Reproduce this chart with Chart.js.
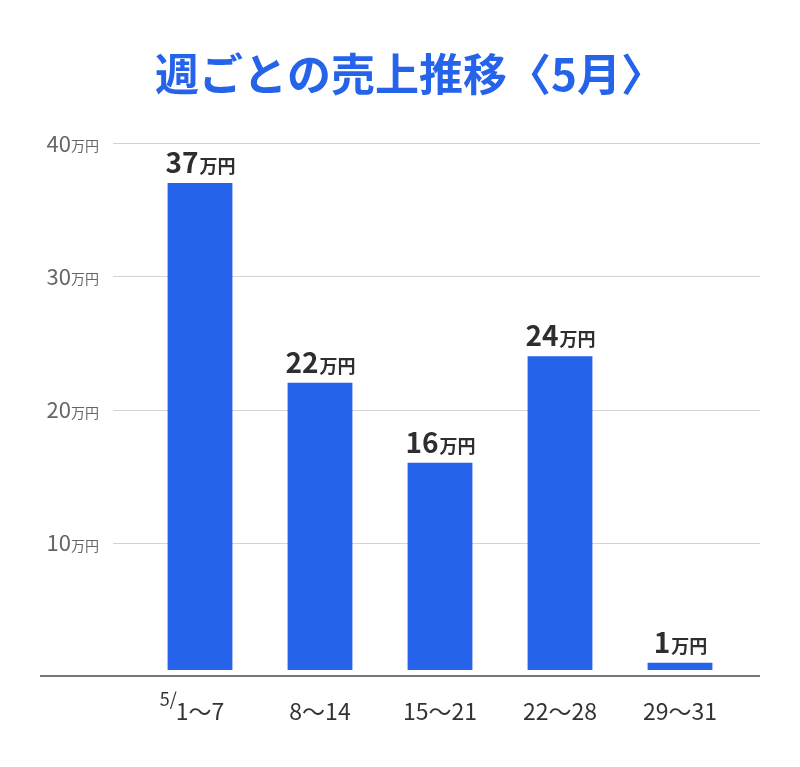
<!DOCTYPE html>
<html lang="ja">
<head>
<meta charset="utf-8">
<title>週ごとの売上推移〈5月〉</title>
<script src="https://cdn.jsdelivr.net/npm/chart.js@4.4.1/dist/chart.umd.min.js"></script>
<style>
  html, body { margin: 0; padding: 0; background: #ffffff; }
  #wrap { width: 800px; height: 767px; position: relative; }
</style>
</head>
<body>
<div id="wrap"><canvas id="c" width="800" height="767"></canvas></div>
<script>
const titleText = '週ごとの売上推移〈5月〉';
const categories = ['1〜7', '8〜14', '15〜21', '22〜28', '29〜31'];
const categoryPrefixes = ['5/', '', '', '', ''];
const salesValues = [37, 22, 16, 24, 1];
const valueUnit = '万円';
const yTickValues = [10, 20, 30, 40];
const yMin = 0;
const yMax = 40;

const FONT = '"Noto Sans CJK JP", "Noto Sans", sans-serif';
const BLUE = '#2563eb';

const decorPlugin = {
  id: 'decor',
  beforeDatasetsDraw(chart) {
    const ctx = chart.ctx;
    const area = chart.chartArea;
    const y = chart.scales.y;
    ctx.save();
    // grid lines
    ctx.strokeStyle = '#d3d3d3';
    ctx.lineWidth = 1.2;
    yTickValues.forEach(v => {
      const py = Math.round(y.getPixelForValue(v)) + 0.5;
      ctx.beginPath();
      ctx.moveTo(area.left - 27, py);
      ctx.lineTo(area.right + 20, py);
      ctx.stroke();
    });
    // y labels
    yTickValues.forEach(v => {
      const py = y.getPixelForValue(v);
      const rightX = area.left - 41;
      ctx.font = '14px ' + FONT;
      const uw = ctx.measureText(valueUnit).width;
      ctx.fillStyle = '#666666';
      ctx.textAlign = 'right';
      ctx.textBaseline = 'alphabetic';
      ctx.fillText(valueUnit, rightX, py + 8);
      ctx.font = '22px ' + FONT;
      ctx.fillText(String(v), rightX - uw, py + 8.5);
    });
    // title
    ctx.font = 'bold 44px ' + FONT;
    ctx.fillStyle = BLUE;
    ctx.textAlign = 'center';
    ctx.textBaseline = 'middle';
    ctx.fillText(titleText, chart.width / 2 + 10, 74);
    ctx.restore();
  },
  afterDatasetsDraw(chart) {
    const ctx = chart.ctx;
    const area = chart.chartArea;
    const meta = chart.getDatasetMeta(0);
    ctx.save();
    // base axis line
    const by = chart.scales.y.getPixelForValue(yMin);
    ctx.strokeStyle = '#4a4a4a';
    ctx.lineWidth = 1.6;
    ctx.beginPath();
    ctx.moveTo(40, by);
    ctx.lineTo(area.right + 20, by);
    ctx.stroke();
    meta.data.forEach((bar, i) => {
      // value labels
      const num = String(salesValues[i]);
      ctx.font = 'bold 28px ' + FONT;
      const nw = ctx.measureText(num).width;
      ctx.font = 'bold 18px ' + FONT;
      const uw = ctx.measureText(valueUnit).width;
      const startX = bar.x - (nw + uw) / 2;
      const baseY = bar.y - 10;
      ctx.fillStyle = '#2e2e2e';
      ctx.textAlign = 'left';
      ctx.textBaseline = 'alphabetic';
      ctx.font = 'bold 28px ' + FONT;
      ctx.fillText(num, startX, baseY);
      ctx.font = 'bold 18px ' + FONT;
      ctx.fillText(valueUnit, startX + nw + 1, baseY);
      // category labels
      const label = categories[i];
      ctx.font = '23px ' + FONT;
      ctx.fillStyle = '#333333';
      const lw = ctx.measureText(label).width;
      const lx = bar.x - lw / 2;
      const ly = by + 44;
      ctx.fillText(label, lx, ly);
      const pre = categoryPrefixes[i];
      if (pre) {
        ctx.font = '18px ' + FONT;
        ctx.textAlign = 'right';
        ctx.fillText(pre, lx + 1, ly - 14);
        ctx.textAlign = 'left';
      }
    });
    ctx.restore();
  }
};

new Chart(document.getElementById('c'), {
  type: 'bar',
  data: {
    labels: categories,
    datasets: [{
      data: salesValues,
      backgroundColor: BLUE,
      borderWidth: 0,
      base: 0.45,
      barPercentage: 0.54,
      categoryPercentage: 1.0
    }]
  },
  options: {
    responsive: false,
    animation: false,
    devicePixelRatio: 1,
    layout: { padding: { left: 140, right: 60, top: 143, bottom: 91 } },
    plugins: {
      legend: { display: false },
      title: { display: false },
      tooltip: { enabled: false }
    },
    scales: {
      x: { display: false, offset: true },
      y: { display: false, min: yMin, max: yMax }
    }
  },
  plugins: [decorPlugin]
});
</script>
</body>
</html>
